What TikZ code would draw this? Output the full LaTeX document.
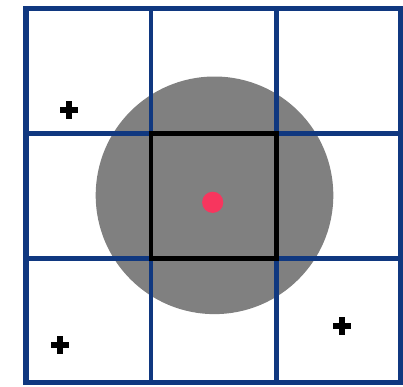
\documentclass[tikz,border=0pt]{standalone}
\usepackage{tikz}
\usetikzlibrary{positioning}
\definecolor{gridblue}{RGB}{16,56,128}
\definecolor{query}{RGB}{247,54,94}
\definecolor{radiusgray}{RGB}{128,128,128}

\begin{document}
\begin{tikzpicture}[
  x=0.25mm, y=-0.25mm,
  cellline/.style={draw=gridblue, line width=1.1mm},
  frameline/.style={draw=gridblue, line width=1.3mm},
  target/.style={draw=black, line width=1.1mm},
  point/.style={circle, fill=query, inner sep=0pt, minimum size=5.3mm},
  plusmark/.style={fill=black}
]
  \useasboundingbox (0,0) rectangle (403,386);

  % ── search radius ──
  \fill[radiusgray] (214.5,195.3) circle (118.8);

  % ── grid cells ──
  \foreach \g in {151,276.5} {
    \draw[cellline] (\g,8.5) -- (\g,382.5);
  }
  \foreach \g in {133.5,258.5} {
    \draw[cellline] (26,\g) -- (401,\g);
  }
  \draw[frameline] (26,8.5) rectangle (401,382.5);

  % ── query cell and point ──
  \draw[target] (151,133.5) rectangle (276.5,258.5);
  \node[point] (q) at (212.7,202.3) {};

  % ── other points ──
  \foreach \px/\py in {69/110, 60/345, 342.3/325.7} {
    \fill[plusmark] (\px-9,\py-3) rectangle (\px+9,\py+3);
    \fill[plusmark] (\px-3,\py-9) rectangle (\px+3,\py+9);
  }
\end{tikzpicture}
\end{document}
